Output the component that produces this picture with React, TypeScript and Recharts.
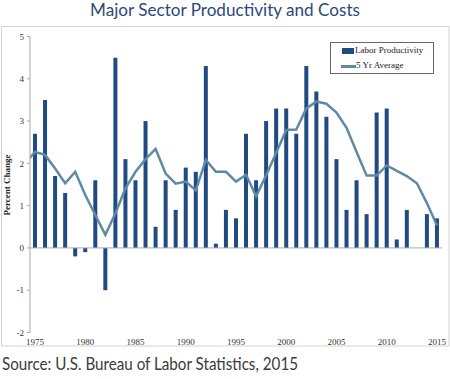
import React from 'react';
import { ComposedChart, Bar, Line, XAxis, YAxis, ReferenceLine, Legend } from 'recharts';

const years = [
  1974, 1975, 1976, 1977, 1978, 1979, 1980, 1981, 1982, 1983, 1984, 1985, 1986, 1987,
  1988, 1989, 1990, 1991, 1992, 1993, 1994, 1995, 1996, 1997, 1998, 1999, 2000, 2001,
  2002, 2003, 2004, 2005, 2006, 2007, 2008, 2009, 2010, 2011, 2012, 2013, 2014, 2015,
];

const laborProductivity: (number | null)[] = [
  null, 2.7, 3.5, 1.7, 1.3, -0.2, -0.1, 1.6, -1.0, 4.5, 2.1, 1.6, 3.0, 0.5,
  1.6, 0.9, 1.9, 1.8, 4.3, 0.1, 0.9, 0.7, 2.7, 1.6, 3.0, 3.3, 3.3, 2.7,
  4.3, 3.7, 3.1, 2.1, 0.9, 1.6, 0.8, 3.2, 3.3, 0.2, 0.9, null, 0.8, 0.7,
];

const fiveYearAverage: number[] = [
  2.0, 2.27, 2.2, 1.88, 1.53, 1.8, 1.25, 0.78, 0.31, 0.82, 1.41, 1.8, 2.1, 2.34,
  1.76, 1.52, 1.57, 1.36, 2.08, 1.8, 1.8, 1.57, 1.73, 1.22, 1.72, 2.25, 2.79, 2.8,
  3.3, 3.46, 3.41, 3.2, 2.84, 2.27, 1.71, 1.71, 1.95, 1.82, 1.7, 1.53, 1.06, 0.53,
];

const xTicks = [1975, 1980, 1985, 1990, 1995, 2000, 2005, 2010, 2015];
const yTicks = [-2, -1, 0, 1, 2, 3, 4, 5];

const data = years.map((year, i) => ({
  year,
  productivity: laborProductivity[i],
  avg: fiveYearAverage[i],
}));

const BAR_COLOR = '#214a80';
const LINE_COLOR = '#5f8aa5';
const SERIF = '"Liberation Serif", "Times New Roman", serif';

const LegendBox = () => (
  <div
    style={{
      width: 104,
      height: 32,
      boxSizing: 'border-box',
      border: '1px solid #666',
      background: '#fff',
      fontFamily: SERIF,
      fontSize: 9,
      color: '#222',
      position: 'relative',
    }}
  >
    <div style={{ position: 'absolute', left: 11, top: 5, width: 12, height: 6, background: BAR_COLOR }} />
    <div style={{ position: 'absolute', left: 24, top: 2, lineHeight: '11px', whiteSpace: 'nowrap' }}>Labor Productivity</div>
    <div style={{ position: 'absolute', left: 10, top: 22, width: 15, height: 2.5, background: LINE_COLOR }} />
    <div style={{ position: 'absolute', left: 25, top: 17, lineHeight: '11px', whiteSpace: 'nowrap' }}>5 Yr Average</div>
  </div>
);

export default function App() {
  return (
    <div style={{ position: 'absolute', left: 0, top: 0, width: 450, height: 379, background: '#fff' }}>
      <ComposedChart
        width={450}
        height={379}
        data={data}
        margin={{ top: 36.5, right: 8, bottom: 32.5, left: 0 }}
      >
        <XAxis
          dataKey="year"
          type="number"
          domain={[1974.5, 2015.5]}
          allowDataOverflow
          ticks={xTicks}
          height={14}
          axisLine={false}
          tickLine={false}
          tickSize={0}
          tickMargin={6}
          interval={0}
          tick={{ fontFamily: SERIF, fontSize: 9, fill: '#333' }}
        />
        <YAxis
          type="number"
          domain={[-2, 5]}
          ticks={yTicks}
          width={30}
          interval={0}
          axisLine={{ stroke: '#aaa' }}
          tickLine={{ stroke: '#aaa' }}
          tickSize={3}
          tickMargin={3}
          tick={{ fontFamily: SERIF, fontSize: 9, fill: '#333' }}
          label={{
            value: 'Percent Change',
            content: () => (
              <text
                x={7}
                y={185}
                transform="rotate(-90, 7, 185)"
                textAnchor="middle"
                dominantBaseline="central"
                fontFamily={SERIF}
                fontSize={9}
                fontWeight="bold"
                fill="#222"
              >
                Percent Change
              </text>
            ),
          }}
        />
        <ReferenceLine y={0} stroke="#a8a8a8" strokeWidth={1} />
        <Bar
          dataKey="productivity"
          name="Labor Productivity"
          fill={BAR_COLOR}
          barSize={4}
          isAnimationActive={false}
        />
        <Line
          dataKey="avg"
          name="5 Yr Average"
          type="linear"
          stroke={LINE_COLOR}
          strokeWidth={2.5}
          dot={false}
          activeDot={false}
          isAnimationActive={false}
        />
        <Legend
          layout="horizontal"
          verticalAlign="middle"
          align="center"
          content={() => <LegendBox />}
          wrapperStyle={{ left: 330, top: 42, width: 104, height: 32 }}
        />
      </ComposedChart>
      <svg
        width={450}
        height={379}
        style={{ position: 'absolute', left: 0, top: 0, pointerEvents: 'none' }}
      >
        <rect x={1.5} y={26.5} width={447.5} height={319.5} fill="none" stroke="#d4d4d4" strokeWidth={1} />
        <text
          x={225}
          y={16}
          textAnchor="middle"
          fontFamily="Lato, 'Open Sans', sans-serif"
          fontSize={17.5}
          fill="#2c4a78"
          textLength={270}
          lengthAdjust="spacingAndGlyphs"
        >
          Major Sector Productivity and Costs
        </text>
        <text
          x={2}
          y={369.5}
          fontFamily="Lato, 'Open Sans', sans-serif"
          fontSize={17}
          fill="#3a3a3a"
          textLength={296}
          lengthAdjust="spacingAndGlyphs"
        >
          Source: U.S. Bureau of Labor Statistics, 2015
        </text>
      </svg>
    </div>
  );
}
